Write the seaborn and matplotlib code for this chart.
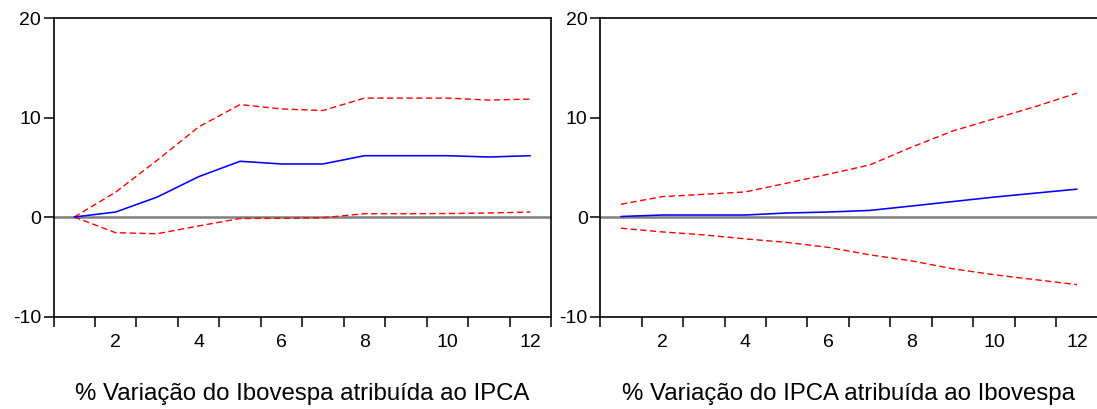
import numpy as np
import pandas as pd
import matplotlib
matplotlib.use("Agg")
import matplotlib.pyplot as plt
from matplotlib.ticker import FixedLocator, FixedFormatter
import seaborn as sns

# Horizon (periods after the shock)
periods = list(range(1, 13))

# Response of Ibovespa to an IPCA shock (%), with +/- 2 s.e. bands
ibov_resp = [0.0, 0.5, 2.0, 4.05, 5.6, 5.33, 5.33, 6.16, 6.16, 6.16, 6.03, 6.16]
ibov_upper = [0.0, 2.5, 5.7, 9.05, 11.3, 10.86, 10.7, 11.95, 11.95, 11.95, 11.75, 11.85]
ibov_lower = [0.0, -1.58, -1.68, -0.9, -0.15, -0.13, -0.07, 0.33, 0.33, 0.35, 0.4, 0.5]

# Response of IPCA to an Ibovespa shock (%), with +/- 2 s.e. bands
ipca_resp = [0.05, 0.2, 0.2, 0.2, 0.4, 0.5, 0.66, 1.1, 1.55, 2.0, 2.4, 2.8]
ipca_upper = [1.28, 2.05, 2.28, 2.52, 3.4, 4.3, 5.23, 7.0, 8.64, 9.87, 11.1, 12.45]
ipca_lower = [-1.13, -1.5, -1.8, -2.2, -2.55, -3.05, -3.8, -4.4, -5.2, -5.8, -6.3, -6.8]

panel_titles = ["% Variação do Ibovespa atribuída ao IPCA",
                "% Variação do IPCA atribuída ao Ibovespa"]
x_tick_labels = ["2", "4", "6", "8", "10", "12"]
y_ticks = [-10, 0, 10, 20]

sns.set_theme(style="white")
plt.rcParams["font.family"] = ["Liberation Sans", "DejaVu Sans"]

fig = plt.figure(figsize=(10.97, 4.09), dpi=100)
ax_left = fig.add_axes([53.5 / 1097, 1 - 316.5 / 409, 497.5 / 1097, 298.5 / 409])
ax_right = fig.add_axes([600.2 / 1097, 1 - 316.5 / 409, 497.5 / 1097, 298.5 / 409])

panels = [
    (ax_left, ibov_resp, ibov_upper, ibov_lower, panel_titles[0]),
    (ax_right, ipca_resp, ipca_upper, ipca_lower, panel_titles[1]),
]

for ax, resp, upper, lower, title in panels:
    df = pd.DataFrame({
        "period": periods * 3,
        "value": resp + upper + lower,
        "series": ["resp"] * 12 + ["upper"] * 12 + ["lower"] * 12,
    })
    ax.axhline(0, color="#7f7f7f", lw=1.8, zorder=1)
    sns.lineplot(data=df[df.series == "resp"], x="period", y="value",
                 color="#0000ff", lw=1.15, ax=ax, zorder=3)
    for band in ["upper", "lower"]:
        sns.lineplot(data=df[df.series == band], x="period", y="value",
                     color="#ff0000", lw=1.0, ax=ax, zorder=2,
                     linestyle=(0, (4.5, 2.5)))

    ax.set_xlim(0.5, 12.5)
    ax.set_ylim(-10, 20)

    # Tick marks between periods, labels on even periods
    ax.xaxis.set_major_locator(FixedLocator(np.arange(0.5, 13.0, 1.0)))
    ax.xaxis.set_major_formatter(FixedFormatter([""] * 13))
    ax.xaxis.set_minor_locator(FixedLocator([2, 4, 6, 8, 10, 12]))
    ax.xaxis.set_minor_formatter(FixedFormatter(x_tick_labels))
    ax.tick_params(axis="x", which="major", direction="out", length=7,
                   width=1.1, color="black", bottom=True)
    ax.tick_params(axis="x", which="minor", length=0, pad=12.5,
                   labelsize=14, labelcolor="black", bottom=True)

    ax.set_yticks(y_ticks)
    ax.set_yticklabels([str(v) for v in y_ticks])
    ax.tick_params(axis="y", which="major", direction="out", length=7,
                   width=1.1, color="black", left=True, labelsize=14,
                   labelcolor="black", pad=2)

    for side in ["left", "right", "top", "bottom"]:
        ax.spines[side].set_visible(True)
        ax.spines[side].set_color("black")
        ax.spines[side].set_linewidth(1.2)

    ax.set_ylabel("")
    ax.set_xlabel(title, fontsize=17.3, color="black", labelpad=23)
    ax.grid(False)

fig.savefig("out.png", dpi=100)
